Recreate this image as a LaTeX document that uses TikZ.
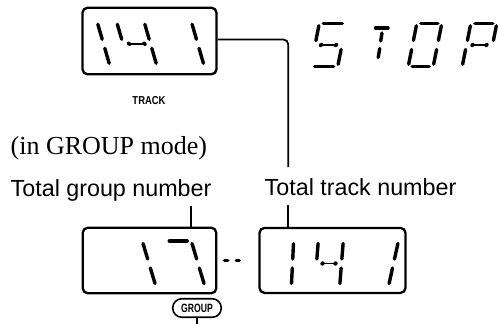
\documentclass[tikz,border=0pt]{standalone}
\usepackage{fontspec}
\usepackage{graphicx}
\setmainfont{Liberation Serif}
\newfontfamily\arialf{Liberation Sans}
\newcommand\sdsega{\draw[seg] (-\hw+4,-\hh) -- (\hw-4,-\hh);}
\newcommand\sdsegb{\draw[seg] (\hw,-\hh+2.5) -- (\hw,-4.5);}
\newcommand\sdsegc{\draw[seg] (\hw,4.5) -- (\hw,\hh-2.5);}
\newcommand\sdsegd{\draw[seg] (-\hw+4,\hh) -- (\hw-4,\hh);}
\newcommand\sdsege{\draw[seg] (-\hw,4.5) -- (-\hw,\hh-2.5);}
\newcommand\sdsegf{\draw[seg] (-\hw,-\hh+2.5) -- (-\hw,-4.5);}
\newcommand\sdsegg{\draw[segthin] (-\hw+6,0) -- (\hw-6,0); \fill (-\hw+6,0) circle (2.2) (\hw-6,0) circle (2.2);}
\newcommand\segdigit[6]{%
  \begin{scope}[shift={(#1,#2)}, xslant=#3]
    \pgfmathsetmacro\hw{#4/2}\pgfmathsetmacro\hh{#5/2}
    \foreach \sgname in {#6}{\csname sdseg\sgname\endcsname}
  \end{scope}}
\begin{document}
\begin{tikzpicture}[x=1pt,y=-1pt,
  seg/.style={line width=3.4pt, line cap=round},
  segthin/.style={line width=1.6pt},
  lcd/.style={draw, line width=2.3pt, rounded corners=5pt, inner sep=0pt},
  conn/.style={line width=1.8pt},
  dotseg/.style={line width=3.4pt, line cap=round},
  lbl/.style={font=\arialf\fontsize{23.3}{28}\selectfont, inner sep=0pt},
  serifl/.style={font=\fontsize{26}{30}\selectfont, inner sep=0pt},
  tag/.style={font=\arialf\bfseries\fontsize{11.5}{13}\selectfont, inner sep=0pt},
  pill/.style={draw, line width=1.6pt, rounded corners=9pt, inner sep=0pt,
    minimum width=48.5pt, minimum height=18.5pt,
    font=\arialf\bfseries\fontsize{12}{13}\selectfont}]
\useasboundingbox (0,0) rectangle (499,324);

% LCD boxes
\node[lcd, minimum width=134pt, minimum height=66.5pt] (topbox) at (149.5,41) {};
\node[lcd, minimum width=133.5pt, minimum height=65.5pt] (gbox) at (149.5,260.5) {};
\node[lcd, minimum width=146pt, minimum height=65pt] (tbox) at (332.5,260.4) {};

% digits: top box "141"
\segdigit{89.75}{43.8}{-0.29}{27.5}{44}{b,c}
\segdigit{136.75}{43.8}{-0.29}{27.5}{44}{f,g,b,c}
\segdigit{184}{43.8}{-0.29}{27.5}{44}{b,c}

% STOP
\segdigit{328.5}{45}{0.2}{27}{43.4}{a,f,g,c,d}
\draw[seg] (375.5,28) -- (388,28);
\draw[seg] (382,33) -- (380.7,41);
\draw[seg] (379.7,48.5) -- (378.2,57.5);
\segdigit{425}{45}{0.2}{25}{43.4}{a,b,c,d,e,f}
\segdigit{479.5}{45}{0.2}{26}{43.4}{a,b,f,g,e}

% bottom left "17"
\segdigit{136}{263.5}{-0.3}{26}{45}{b,c}
\segdigit{185}{263.5}{-0.3}{26}{45}{a,b,c}

% bottom right "141"
\segdigit{280}{263.5}{0.05}{25}{45}{b,c}
\segdigit{329}{263.5}{0.08}{25}{45}{f,g,b,c}
\segdigit{381}{263.5}{0.22}{25}{45}{b,c}

% texts
\node[tag] (track) at (149,101) {\scalebox{0.82}[1]{TRACK}};
\node[serifl, anchor=base west] (mode) at (10.5,154) {(in GROUP mode)};
\node[lbl, anchor=base west] (grplbl) at (10.5,196.5) {Total group number};
\node[lbl, anchor=base west] (trklbl) at (264.5,195.5) {Total track number};
\node[pill] (grouptag) at (197,308) {\scalebox{0.72}[1]{GROUP}};

% connectors
\coordinate (trackend) at (288.3,167);
\draw[conn, rounded corners=5pt] ([yshift=1.5pt]topbox.east) -| (trackend);
\coordinate (grpstart) at (191,206);
\draw[conn] (grpstart) -- (grpstart |- gbox.north);
\coordinate (trkstart) at (288.3,205);
\draw[conn] (trkstart) -- (trkstart |- tbox.north);
\coordinate (grpbottom) at (197,324);
\draw[conn] (grouptag.south) -- (grpbottom);
\draw[dotseg] ([xshift=7pt]gbox.east) -- ([xshift=10.5pt]gbox.east);
\draw[dotseg] ([xshift=18.8pt]gbox.east) -- ([xshift=22pt]gbox.east);
\end{tikzpicture}
\end{document}
